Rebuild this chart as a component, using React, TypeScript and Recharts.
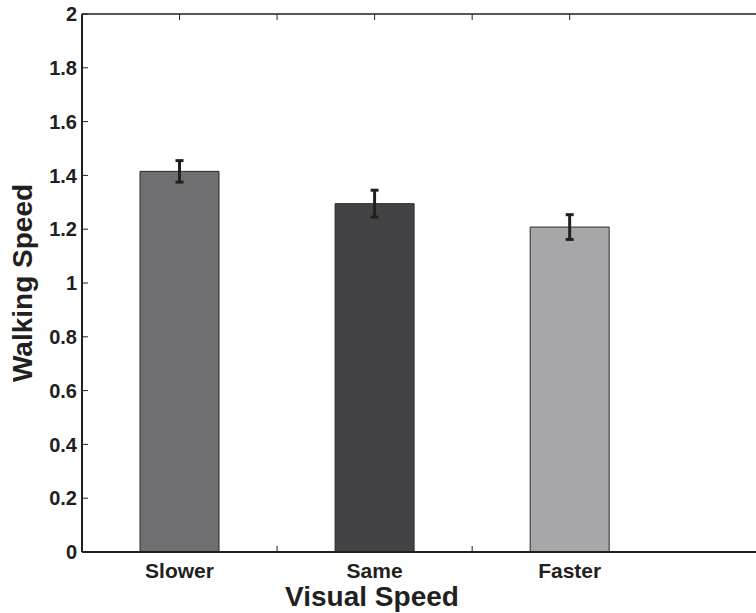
import React from 'react';
import { BarChart, Bar, XAxis, YAxis, ErrorBar, Cell } from 'recharts';

const categories = ['Slower', 'Same', 'Faster'];
const positions = [1, 2, 3];
const walkingSpeed = [1.415, 1.295, 1.208];
const speedError = [0.04, 0.05, 0.046];
const barColors = ['#6f6f71', '#434345', '#a7a7a9'];
const yTicks = [0, 0.2, 0.4, 0.6, 0.8, 1, 1.2, 1.4, 1.6, 1.8, 2];
const yTickLabels = ['0', '0.2', '0.4', '0.6', '0.8', '1', '1.2', '1.4', '1.6', '1.8', '2'];
const xTicks = [1, 1.5, 2, 2.5, 3];
const xDomain: [number, number] = [0.5, 3.955];

const data = positions.map((p, i) => ({
  x: p,
  name: categories[i],
  value: walkingSpeed[i],
  err: speedError[i],
}));

const FONT = '"Liberation Sans", Arial, Helvetica, sans-serif';
const INK = '#231f20';
const X_MARGIN = 11;
const Y_MARGIN = 5;

const XTick = (props: any) => {
  const { x, y, payload } = props;
  const idx = positions.indexOf(payload.value);
  const axisY = y - X_MARGIN;
  return (
    <g>
      {idx < 0 && (
        <line x1={x} x2={x} y1={axisY} y2={axisY - 6} stroke={INK} strokeWidth={1} />
      )}
      {idx >= 0 && (
        <text
          x={x}
          y={y}
          dy="0.71em"
          textAnchor="middle"
          fontFamily={FONT}
          fontWeight="bold"
          fontSize={21}
          fill={INK}
        >
          {categories[idx]}
        </text>
      )}
    </g>
  );
};

const TopTick = (props: any) => {
  const { x, y } = props;
  return <line x1={x} x2={x} y1={y} y2={y + 6} stroke={INK} strokeWidth={1} />;
};

const YTick = (props: any) => {
  const { x, y, payload } = props;
  const idx = yTicks.indexOf(payload.value);
  const axisX = x + Y_MARGIN;
  return (
    <g>
      <line x1={axisX} x2={axisX + 6} y1={y} y2={y} stroke={INK} strokeWidth={1} />
      <text
        x={x}
        y={y}
        dy="0.36em"
        textAnchor="end"
        fontFamily={FONT}
        fontWeight="bold"
        fontSize={20}
        fill={INK}
      >
        {idx >= 0 ? yTickLabels[idx] : payload.value}
      </text>
    </g>
  );
};

const YTitle = (props: any) => {
  const vb = props.viewBox || { x: 0, y: 0, width: 0, height: 0 };
  const cx = vb.x + 32;
  const cy = vb.y + vb.height / 2;
  return (
    <text
      x={cx}
      y={cy}
      transform={`rotate(-90 ${cx} ${cy})`}
      textAnchor="middle"
      fontFamily={FONT}
      fontWeight="bold"
      fontSize={28}
      fill={INK}
    >
      Walking Speed
    </text>
  );
};

const XTitle = (props: any) => {
  const vb = props.viewBox || { x: 0, y: 0, width: 0, height: 0 };
  return (
    <text
      x={vb.x + 290}
      y={vb.y + 54}
      textAnchor="middle"
      fontFamily={FONT}
      fontWeight="bold"
      fontSize={28}
      fill={INK}
    >
      Visual Speed
    </text>
  );
};

export default function App() {
  return (
    <div style={{ position: 'absolute', left: 0, top: 0, background: '#fff' }}>
      <BarChart
        width={756}
        height={613}
        data={data}
        margin={{ top: 0, right: 0, bottom: 0, left: 0 }}
      >
        <XAxis
          xAxisId="top"
          orientation="top"
          type="number"
          dataKey="x"
          domain={xDomain}
          ticks={xTicks}
          allowDataOverflow
          height={14}
          tickSize={0}
          tickMargin={0}
          tickLine={false}
          tick={<TopTick />}
          axisLine={{ stroke: INK, strokeWidth: 1.5 }}
        />
        <XAxis
          xAxisId="main"
          type="number"
          dataKey="x"
          domain={xDomain}
          ticks={xTicks}
          allowDataOverflow
          height={61}
          tickSize={0}
          tickMargin={X_MARGIN}
          tickLine={false}
          tick={<XTick />}
          axisLine={{ stroke: INK, strokeWidth: 2 }}
          label={<XTitle />}
        />
        <YAxis
          type="number"
          domain={[0, 2]}
          ticks={yTicks}
          width={82}
          tickSize={0}
          tickMargin={Y_MARGIN}
          tickLine={false}
          tick={<YTick />}
          axisLine={{ stroke: INK, strokeWidth: 2 }}
          label={<YTitle />}
        />
        <Bar
          xAxisId="main"
          dataKey="value"
          barSize={79}
          stroke="#2b2b2b"
          strokeWidth={1}
          isAnimationActive={false}
        >
          {data.map((d, i) => (
            <Cell key={d.name} fill={barColors[i]} />
          ))}
          <ErrorBar dataKey="err" width={4} strokeWidth={3} stroke={INK} isAnimationActive={false} />
        </Bar>
      </BarChart>
    </div>
  );
}
